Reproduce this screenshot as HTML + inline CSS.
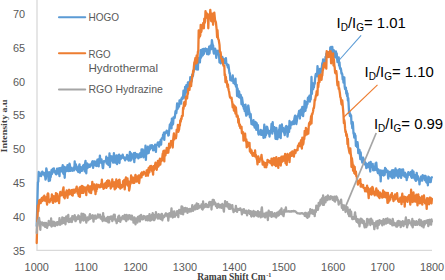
<!DOCTYPE html>
<html><head><meta charset="utf-8"><style>
html,body{margin:0;padding:0;background:#fff;}
body{width:445px;height:280px;overflow:hidden;position:relative;}
svg{position:absolute;left:0;top:0;}
text{font-family:"Liberation Sans",sans-serif;}
</style></head><body>
<svg width="445" height="280" viewBox="0 0 445 280">
<rect width="445" height="280" fill="#fff"/>
<g fill="#595959" font-size="10.9"><text x="25.2" y="17.9" text-anchor="end">70</text><text x="25.2" y="51.7" text-anchor="end">65</text><text x="25.2" y="85.6" text-anchor="end">60</text><text x="25.2" y="119.4" text-anchor="end">55</text><text x="25.2" y="153.3" text-anchor="end">50</text><text x="25.2" y="187.1" text-anchor="end">45</text><text x="25.2" y="220.9" text-anchor="end">40</text><text x="25.2" y="254.8" text-anchor="end">35</text><text x="36.7" y="270.6" text-anchor="middle">1000</text><text x="86.1" y="270.6" text-anchor="middle">1100</text><text x="135.5" y="270.6" text-anchor="middle">1200</text><text x="184.9" y="270.6" text-anchor="middle">1300</text><text x="234.4" y="270.6" text-anchor="middle">1400</text><text x="283.8" y="270.6" text-anchor="middle">1500</text><text x="333.2" y="270.6" text-anchor="middle">1600</text><text x="382.6" y="270.6" text-anchor="middle">1700</text><text x="432.0" y="270.6" text-anchor="middle">1800</text></g>
<line x1="37" y1="0" x2="37" y2="250.3" stroke="#d9d9d9" stroke-width="1.3"/>
<line x1="36.4" y1="250.3" x2="432" y2="250.3" stroke="#d9d9d9" stroke-width="1.3"/>
<g fill="none" stroke-width="2.3" stroke-linejoin="round" stroke-linecap="round">
<polyline stroke="#5B9BD5" points="36.7,226.0 37.1,212.3 37.5,197.2 37.9,182.3 38.3,181.7 38.7,172.0 39.1,173.2 39.5,175.9 39.9,175.6 40.3,175.5 40.7,174.9 41.1,176.1 41.5,172.3 41.9,173.0 42.3,171.6 42.7,174.4 43.1,173.5 43.5,173.4 43.9,172.8 44.3,174.8 44.7,176.0 45.1,175.6 45.5,179.6 45.9,178.4 46.3,168.3 46.7,170.1 47.1,174.6 47.5,174.2 47.9,176.3 48.3,176.4 48.7,181.0 49.1,172.1 49.5,174.0 49.9,180.5 50.3,177.0 50.7,177.0 51.1,173.7 51.5,170.1 51.9,174.0 52.3,173.1 52.7,169.0 53.1,169.8 53.5,170.9 53.9,168.4 54.3,170.9 54.7,172.2 55.1,172.7 55.5,171.4 55.9,174.0 56.3,174.3 56.7,172.2 57.1,168.7 57.5,172.6 57.9,169.6 58.3,173.5 58.7,168.3 59.1,173.2 59.5,176.2 59.9,168.1 60.3,170.6 60.7,171.2 61.1,171.3 61.5,167.7 61.9,167.6 62.3,171.6 62.7,165.2 63.1,172.8 63.5,173.7 63.9,166.6 64.3,170.9 64.7,177.8 65.1,169.1 65.5,167.4 65.9,170.9 66.3,169.3 66.7,171.1 67.1,168.0 67.5,165.1 67.9,168.9 68.3,168.2 68.7,171.1 69.1,168.9 69.5,163.7 69.9,165.0 70.3,170.9 70.7,170.9 71.1,167.7 71.5,169.2 71.9,170.0 72.3,169.8 72.7,170.7 73.1,168.9 73.5,167.7 73.9,167.1 74.3,170.3 74.7,161.5 75.1,167.1 75.5,167.8 75.9,164.3 76.3,169.0 76.7,166.4 77.1,170.3 77.5,168.0 77.9,170.4 78.3,172.0 78.7,169.8 79.1,166.3 79.5,164.3 79.9,172.6 80.3,168.0 80.7,167.1 81.1,169.7 81.5,168.7 81.9,170.9 82.3,168.2 82.7,167.6 83.1,165.5 83.5,168.6 83.9,164.8 84.3,169.3 84.7,171.4 85.1,163.4 85.5,160.9 85.9,168.6 86.3,173.3 86.7,164.0 87.1,163.4 87.5,168.2 87.9,164.2 88.3,164.6 88.7,164.6 89.1,166.8 89.5,164.7 89.9,166.8 90.3,165.9 90.7,164.3 91.1,165.5 91.5,163.4 91.9,165.0 92.3,161.5 92.7,161.3 93.1,167.9 93.5,164.1 93.9,164.4 94.3,161.3 94.7,163.4 95.1,163.8 95.5,165.5 95.9,165.3 96.3,161.4 96.7,166.0 97.1,161.6 97.5,159.6 97.9,159.5 98.3,160.9 98.7,166.4 99.1,159.1 99.5,162.1 99.9,155.6 100.3,160.5 100.7,162.6 101.1,160.0 101.5,159.5 101.9,162.2 102.3,164.0 102.7,167.7 103.1,168.2 103.5,163.6 103.9,161.2 104.3,161.8 104.7,161.2 105.1,161.2 105.5,160.6 105.9,161.2 106.3,156.7 106.7,163.5 107.1,159.9 107.5,158.1 107.9,162.7 108.3,164.9 108.7,163.2 109.1,162.1 109.5,153.5 109.9,167.0 110.3,161.2 110.7,156.2 111.1,157.9 111.5,160.7 111.9,156.3 112.3,160.2 112.7,158.2 113.1,162.6 113.5,162.3 113.9,153.2 114.3,160.8 114.7,156.4 115.1,162.7 115.5,159.1 115.9,159.5 116.3,155.5 116.7,163.5 117.1,164.0 117.5,155.6 117.9,158.9 118.3,155.8 118.7,157.6 119.1,154.7 119.5,163.0 119.9,155.6 120.3,157.2 120.7,159.1 121.1,156.0 121.5,157.2 121.9,156.5 122.3,157.5 122.7,154.7 123.1,156.9 123.5,158.1 123.9,157.9 124.3,158.6 124.7,157.5 125.1,160.4 125.5,158.0 125.9,158.8 126.3,157.4 126.7,157.2 127.1,154.8 127.5,159.3 127.9,155.6 128.3,157.4 128.7,160.7 129.1,160.3 129.5,157.1 129.9,151.8 130.3,157.6 130.7,160.5 131.1,153.5 131.5,159.6 131.9,155.9 132.3,154.6 132.7,157.4 133.1,156.6 133.5,157.8 133.9,153.2 134.3,162.1 134.7,155.6 135.1,152.9 135.5,157.9 135.9,154.7 136.3,155.9 136.7,154.1 137.1,155.3 137.5,156.7 137.9,154.5 138.3,158.3 138.7,155.4 139.1,154.6 139.5,157.4 139.9,153.5 140.3,156.6 140.7,154.3 141.1,157.0 141.5,149.5 141.9,150.4 142.3,152.9 142.7,149.4 143.1,153.3 143.5,157.3 143.9,155.3 144.3,150.4 144.7,150.9 145.1,153.1 145.5,145.6 145.9,159.9 146.3,150.1 146.7,149.8 147.1,153.6 147.5,151.1 147.9,146.7 148.3,152.9 148.7,153.1 149.1,148.9 149.5,148.4 149.9,149.6 150.3,145.3 150.7,148.4 151.1,147.9 151.5,146.4 151.9,145.1 152.3,148.0 152.7,145.8 153.1,150.3 153.5,148.2 153.9,150.1 154.3,148.1 154.7,147.8 155.1,144.6 155.5,148.5 155.9,151.8 156.3,146.3 156.7,144.8 157.1,145.0 157.5,143.5 157.9,142.5 158.3,144.3 158.7,142.7 159.1,146.6 159.5,142.2 159.9,142.1 160.3,143.1 160.7,139.8 161.1,144.6 161.5,139.2 161.9,138.2 162.3,138.4 162.7,138.3 163.1,134.6 163.5,137.6 163.9,132.6 164.3,139.9 164.7,132.3 165.1,133.8 165.5,132.4 165.9,132.8 166.3,132.6 166.7,130.6 167.1,131.3 167.5,133.3 167.9,132.1 168.3,135.5 168.7,135.3 169.1,131.3 169.5,128.0 169.9,124.3 170.3,127.7 170.7,124.6 171.1,122.5 171.5,128.4 171.9,118.6 172.3,125.2 172.7,120.9 173.1,124.0 173.5,117.4 173.9,117.8 174.3,118.1 174.7,117.8 175.1,114.9 175.5,111.3 175.9,110.7 176.3,113.1 176.7,109.3 177.1,103.5 177.5,109.0 177.9,107.2 178.3,107.7 178.7,103.9 179.1,106.3 179.5,100.5 179.9,103.9 180.3,100.5 180.7,103.2 181.1,103.6 181.5,98.3 181.9,98.6 182.3,97.2 182.7,98.9 183.1,96.7 183.5,90.7 183.9,94.2 184.3,94.3 184.7,97.5 185.1,86.8 185.5,88.6 185.9,92.6 186.3,85.2 186.7,85.2 187.1,88.7 187.5,88.5 187.9,82.3 188.3,84.2 188.7,82.6 189.1,86.1 189.5,81.6 189.9,83.2 190.3,77.2 190.7,78.6 191.1,78.6 191.5,81.6 191.9,79.2 192.3,74.3 192.7,76.5 193.1,75.0 193.5,71.1 193.9,69.6 194.3,69.1 194.7,64.3 195.1,68.7 195.5,68.3 195.9,65.2 196.3,69.4 196.7,62.9 197.1,64.4 197.5,63.8 197.9,69.6 198.3,57.9 198.7,62.4 199.1,62.3 199.5,60.2 199.9,62.4 200.3,55.4 200.7,50.2 201.1,57.7 201.5,50.8 201.9,52.7 202.3,49.4 202.7,55.5 203.1,54.3 203.5,49.0 203.9,53.8 204.3,51.4 204.7,50.1 205.1,49.9 205.5,48.5 205.9,51.0 206.3,50.6 206.7,49.1 207.1,54.1 207.5,49.3 207.9,52.2 208.3,52.1 208.7,54.3 209.1,46.7 209.5,53.3 209.9,48.1 210.3,47.0 210.7,45.5 211.1,49.2 211.5,46.8 211.9,40.2 212.3,42.8 212.7,45.1 213.1,45.3 213.5,51.6 213.9,53.6 214.3,49.3 214.7,51.4 215.1,48.6 215.5,50.0 215.9,53.1 216.3,57.9 216.7,54.7 217.1,51.0 217.5,52.0 217.9,50.9 218.3,50.6 218.7,53.3 219.1,55.9 219.5,62.4 219.9,58.1 220.3,62.2 220.7,63.3 221.1,58.2 221.5,62.3 221.9,59.8 222.3,56.9 222.7,59.2 223.1,58.8 223.5,58.7 223.9,59.7 224.3,61.6 224.7,63.1 225.1,60.0 225.5,62.5 225.9,58.2 226.3,63.1 226.7,64.6 227.1,64.3 227.5,65.7 227.9,67.4 228.3,64.8 228.7,66.8 229.1,70.3 229.5,73.3 229.9,73.2 230.3,80.2 230.7,79.8 231.1,78.6 231.5,80.5 231.9,77.5 232.3,79.6 232.7,75.3 233.1,79.6 233.5,83.2 233.9,81.9 234.3,82.1 234.7,81.1 235.1,84.4 235.5,78.6 235.9,86.2 236.3,87.0 236.7,84.9 237.1,96.0 237.5,88.5 237.9,90.8 238.3,91.2 238.7,97.0 239.1,91.3 239.5,95.9 239.9,97.2 240.3,97.9 240.7,94.9 241.1,97.5 241.5,104.3 241.9,97.3 242.3,99.6 242.7,102.5 243.1,106.4 243.5,106.3 243.9,108.8 244.3,105.1 244.7,111.2 245.1,110.4 245.5,104.6 245.9,113.2 246.3,115.7 246.7,107.9 247.1,110.5 247.5,114.4 247.9,106.6 248.3,105.5 248.7,108.2 249.1,111.2 249.5,112.3 249.9,117.1 250.3,117.6 250.7,114.2 251.1,119.8 251.5,124.1 251.9,123.0 252.3,123.3 252.7,121.3 253.1,124.9 253.5,120.1 253.9,125.7 254.3,123.7 254.7,127.7 255.1,126.1 255.5,121.9 255.9,126.1 256.3,129.8 256.7,123.1 257.1,125.6 257.5,126.2 257.9,125.1 258.3,133.4 258.7,134.6 259.1,133.1 259.5,131.8 259.9,131.4 260.3,132.7 260.7,129.8 261.1,134.9 261.5,134.9 261.9,134.5 262.3,130.6 262.7,133.4 263.1,132.3 263.5,137.9 263.9,131.8 264.3,124.7 264.7,132.3 265.1,137.3 265.5,133.7 265.9,135.3 266.3,133.4 266.7,126.7 267.1,126.9 267.5,128.2 267.9,131.2 268.3,132.1 268.7,133.6 269.1,131.0 269.5,136.5 269.9,132.9 270.3,131.9 270.7,131.7 271.1,130.8 271.5,124.0 271.9,129.7 272.3,133.7 272.7,122.2 273.1,131.3 273.5,131.1 273.9,127.1 274.3,127.2 274.7,131.7 275.1,132.4 275.5,138.8 275.9,135.1 276.3,127.8 276.7,130.2 277.1,139.1 277.5,138.9 277.9,133.2 278.3,132.4 278.7,136.9 279.1,129.8 279.5,128.6 279.9,125.4 280.3,129.0 280.7,138.1 281.1,125.9 281.5,130.0 281.9,124.5 282.3,128.5 282.7,130.8 283.1,127.8 283.5,132.0 283.9,132.8 284.3,132.0 284.7,135.1 285.1,131.3 285.5,127.5 285.9,126.3 286.3,126.0 286.7,130.3 287.1,127.8 287.5,136.7 287.9,133.5 288.3,126.9 288.7,126.2 289.1,131.9 289.5,121.0 289.9,124.8 290.3,128.3 290.7,122.4 291.1,123.3 291.5,123.0 291.9,124.7 292.3,122.0 292.7,122.1 293.1,122.3 293.5,120.8 293.9,124.1 294.3,119.2 294.7,117.0 295.1,115.6 295.5,115.8 295.9,119.1 296.3,124.0 296.7,121.8 297.1,119.1 297.5,116.4 297.9,116.1 298.3,114.8 298.7,113.4 299.1,110.8 299.5,113.8 299.9,118.5 300.3,110.4 300.7,115.3 301.1,109.4 301.5,114.3 301.9,111.0 302.3,106.9 302.7,112.2 303.1,116.1 303.5,110.5 303.9,111.8 304.3,107.1 304.7,100.9 305.1,107.9 305.5,110.8 305.9,102.5 306.3,107.8 306.7,105.5 307.1,101.9 307.5,103.9 307.9,98.0 308.3,101.2 308.7,96.8 309.1,100.4 309.5,95.6 309.9,101.7 310.3,97.6 310.7,99.5 311.1,92.2 311.5,77.0 311.9,93.9 312.3,82.8 312.7,85.3 313.1,89.2 313.5,86.7 313.9,87.3 314.3,83.1 314.7,84.0 315.1,78.9 315.5,75.6 315.9,73.8 316.3,76.3 316.7,75.7 317.1,74.5 317.5,66.1 317.9,70.1 318.3,74.7 318.7,77.6 319.1,75.3 319.5,73.6 319.9,68.8 320.3,78.9 320.7,69.1 321.1,68.6 321.5,71.7 321.9,66.6 322.3,63.1 322.7,63.9 323.1,59.5 323.5,62.0 323.9,60.7 324.3,61.8 324.7,62.6 325.1,63.8 325.5,57.0 325.9,59.5 326.3,53.8 326.7,53.0 327.1,53.3 327.5,52.1 327.9,56.7 328.3,55.7 328.7,55.7 329.1,52.0 329.5,52.9 329.9,55.0 330.3,47.3 330.7,53.5 331.1,47.0 331.5,48.4 331.9,52.6 332.3,46.9 332.7,51.5 333.1,50.9 333.5,51.5 333.9,50.3 334.3,56.1 334.7,55.5 335.1,57.3 335.5,54.7 335.9,51.4 336.3,54.4 336.7,53.3 337.1,58.7 337.5,62.0 337.9,61.3 338.3,60.7 338.7,57.3 339.1,65.6 339.5,62.3 339.9,67.6 340.3,68.9 340.7,68.2 341.1,70.1 341.5,73.7 341.9,73.1 342.3,74.5 342.7,79.3 343.1,78.1 343.5,82.7 343.9,77.4 344.3,77.3 344.7,86.6 345.1,89.2 345.5,87.3 345.9,87.8 346.3,93.6 346.7,90.8 347.1,96.2 347.5,93.4 347.9,100.7 348.3,98.2 348.7,105.7 349.1,113.2 349.5,111.3 349.9,116.0 350.3,114.1 350.7,115.2 351.1,115.5 351.5,123.9 351.9,122.6 352.3,128.2 352.7,122.2 353.1,126.2 353.5,133.3 353.9,134.2 354.3,137.6 354.7,133.7 355.1,134.9 355.5,135.8 355.9,145.9 356.3,144.0 356.7,144.1 357.1,147.2 357.5,142.2 357.9,145.5 358.3,153.1 358.7,152.3 359.1,152.3 359.5,150.0 359.9,154.9 360.3,159.1 360.7,152.5 361.1,157.1 361.5,157.3 361.9,160.3 362.3,162.5 362.7,159.2 363.1,157.7 363.5,160.5 363.9,159.3 364.3,160.7 364.7,161.5 365.1,164.5 365.5,162.6 365.9,164.3 366.3,168.1 366.7,164.3 367.1,164.0 367.5,167.3 367.9,166.4 368.3,166.4 368.7,166.8 369.1,162.7 369.5,166.6 369.9,168.7 370.3,171.5 370.7,161.8 371.1,166.8 371.5,163.9 371.9,166.0 372.3,167.2 372.7,163.9 373.1,170.3 373.5,166.5 373.9,168.5 374.3,168.0 374.7,170.1 375.1,170.0 375.5,163.5 375.9,167.9 376.3,162.7 376.7,167.3 377.1,170.4 377.5,171.4 377.9,173.1 378.3,169.3 378.7,171.3 379.1,170.6 379.5,173.8 379.9,175.1 380.3,170.5 380.7,181.4 381.1,171.5 381.5,170.8 381.9,174.0 382.3,174.9 382.7,174.3 383.1,170.6 383.5,175.5 383.9,171.4 384.3,175.2 384.7,174.8 385.1,167.9 385.5,168.8 385.9,168.8 386.3,172.0 386.7,171.5 387.1,172.4 387.5,170.6 387.9,175.1 388.3,178.5 388.7,171.7 389.1,174.4 389.5,174.8 389.9,173.0 390.3,172.0 390.7,176.7 391.1,175.4 391.5,174.4 391.9,170.4 392.3,178.2 392.7,173.0 393.1,170.2 393.5,170.7 393.9,170.5 394.3,177.7 394.7,173.4 395.1,173.8 395.5,168.4 395.9,175.7 396.3,170.8 396.7,170.4 397.1,175.0 397.5,171.7 397.9,176.7 398.3,177.7 398.7,169.6 399.1,173.2 399.5,169.1 399.9,173.2 400.3,175.9 400.7,169.9 401.1,177.9 401.5,172.2 401.9,169.7 402.3,175.4 402.7,174.9 403.1,169.5 403.5,173.1 403.9,174.8 404.3,176.2 404.7,173.7 405.1,172.7 405.5,177.1 405.9,176.9 406.3,174.3 406.7,180.1 407.1,174.4 407.5,177.7 407.9,174.5 408.3,172.2 408.7,173.6 409.1,174.8 409.5,174.0 409.9,173.4 410.3,173.8 410.7,172.0 411.1,176.4 411.5,177.3 411.9,177.9 412.3,170.5 412.7,176.9 413.1,174.9 413.5,171.7 413.9,176.1 414.3,178.4 414.7,175.0 415.1,179.0 415.5,180.3 415.9,180.8 416.3,178.4 416.7,172.8 417.1,175.8 417.5,178.4 417.9,176.2 418.3,179.6 418.7,180.5 419.1,179.3 419.5,184.3 419.9,180.2 420.3,181.1 420.7,177.2 421.1,176.5 421.5,180.3 421.9,177.0 422.3,180.6 422.7,175.2 423.1,178.4 423.5,176.4 423.9,178.3 424.3,178.1 424.7,176.0 425.1,180.4 425.5,175.8 425.9,177.0 426.3,182.2 426.7,182.5 427.1,181.4 427.5,180.2 427.9,185.3 428.3,176.7 428.7,178.2 429.1,177.4 429.5,181.9 429.9,180.0 430.3,182.2 430.7,182.2 431.1,179.3 431.5,177.6 431.9,177.2"/>
<polyline stroke="#ED7D31" points="36.7,243.0 37.1,227.9 37.5,218.1 37.9,205.3 38.3,211.3 38.7,206.6 39.1,200.5 39.5,202.7 39.9,201.9 40.3,199.7 40.7,203.2 41.1,199.3 41.5,199.1 41.9,197.9 42.3,201.0 42.7,199.1 43.1,200.1 43.5,196.6 43.9,198.3 44.3,195.7 44.7,200.6 45.1,199.5 45.5,200.5 45.9,200.9 46.3,197.2 46.7,201.7 47.1,204.7 47.5,194.4 47.9,193.4 48.3,194.0 48.7,200.9 49.1,199.6 49.5,202.3 49.9,201.4 50.3,200.3 50.7,200.3 51.1,198.4 51.5,200.1 51.9,194.4 52.3,196.2 52.7,202.2 53.1,202.9 53.5,196.7 53.9,196.1 54.3,197.4 54.7,201.2 55.1,197.9 55.5,201.7 55.9,193.2 56.3,200.9 56.7,200.5 57.1,193.9 57.5,197.7 57.9,200.5 58.3,197.8 58.7,200.2 59.1,203.1 59.5,196.5 59.9,193.9 60.3,191.9 60.7,195.6 61.1,193.7 61.5,193.7 61.9,193.5 62.3,195.2 62.7,190.6 63.1,189.5 63.5,187.3 63.9,197.1 64.3,194.5 64.7,198.4 65.1,194.4 65.5,192.3 65.9,195.3 66.3,193.7 66.7,190.5 67.1,191.3 67.5,197.8 67.9,193.3 68.3,192.8 68.7,190.6 69.1,189.8 69.5,194.4 69.9,192.3 70.3,190.9 70.7,192.6 71.1,190.5 71.5,193.0 71.9,195.1 72.3,189.9 72.7,195.7 73.1,190.2 73.5,192.1 73.9,189.6 74.3,191.7 74.7,192.7 75.1,191.3 75.5,189.8 75.9,189.0 76.3,188.2 76.7,186.6 77.1,190.6 77.5,192.7 77.9,193.7 78.3,192.3 78.7,196.2 79.1,190.0 79.5,187.6 79.9,196.9 80.3,186.8 80.7,192.9 81.1,188.6 81.5,192.1 81.9,185.8 82.3,192.9 82.7,189.6 83.1,186.7 83.5,192.9 83.9,190.5 84.3,189.1 84.7,187.4 85.1,189.3 85.5,188.8 85.9,190.9 86.3,195.1 86.7,187.2 87.1,187.5 87.5,187.4 87.9,185.4 88.3,187.8 88.7,189.3 89.1,191.3 89.5,192.5 89.9,186.5 90.3,189.5 90.7,186.5 91.1,193.1 91.5,188.0 91.9,189.9 92.3,181.9 92.7,186.2 93.1,188.5 93.5,186.8 93.9,188.9 94.3,184.3 94.7,190.7 95.1,187.2 95.5,194.1 95.9,188.5 96.3,191.4 96.7,184.5 97.1,189.0 97.5,185.3 97.9,185.9 98.3,186.5 98.7,184.9 99.1,186.0 99.5,187.2 99.9,187.3 100.3,185.8 100.7,187.0 101.1,184.0 101.5,185.2 101.9,179.7 102.3,186.8 102.7,184.3 103.1,185.0 103.5,188.8 103.9,188.4 104.3,187.3 104.7,183.7 105.1,186.6 105.5,186.1 105.9,182.6 106.3,187.9 106.7,187.2 107.1,180.8 107.5,185.3 107.9,180.5 108.3,186.0 108.7,185.3 109.1,180.7 109.5,181.5 109.9,184.1 110.3,183.4 110.7,188.5 111.1,187.0 111.5,184.6 111.9,186.6 112.3,179.3 112.7,184.9 113.1,186.1 113.5,183.5 113.9,182.5 114.3,185.8 114.7,189.3 115.1,184.8 115.5,181.6 115.9,188.3 116.3,179.4 116.7,185.0 117.1,181.9 117.5,185.8 117.9,181.2 118.3,187.0 118.7,184.8 119.1,179.9 119.5,179.6 119.9,184.1 120.3,188.6 120.7,186.0 121.1,186.1 121.5,185.2 121.9,187.5 122.3,186.2 122.7,185.2 123.1,181.1 123.5,186.2 123.9,186.5 124.3,179.9 124.7,189.4 125.1,185.1 125.5,181.5 125.9,177.5 126.3,184.2 126.7,184.3 127.1,181.4 127.5,178.3 127.9,185.7 128.3,181.2 128.7,181.7 129.1,190.5 129.5,188.7 129.9,185.5 130.3,181.4 130.7,183.6 131.1,175.3 131.5,181.1 131.9,179.0 132.3,177.9 132.7,177.4 133.1,183.0 133.5,181.8 133.9,181.7 134.3,182.8 134.7,177.9 135.1,176.5 135.5,174.9 135.9,178.6 136.3,181.6 136.7,179.4 137.1,181.4 137.5,176.3 137.9,177.9 138.3,177.0 138.7,175.5 139.1,183.0 139.5,179.8 139.9,175.4 140.3,175.5 140.7,177.3 141.1,173.3 141.5,177.4 141.9,172.4 142.3,174.9 142.7,173.4 143.1,174.7 143.5,172.4 143.9,171.8 144.3,173.2 144.7,173.4 145.1,173.3 145.5,173.0 145.9,175.9 146.3,173.4 146.7,170.3 147.1,173.0 147.5,169.8 147.9,175.7 148.3,173.3 148.7,167.8 149.1,172.5 149.5,172.0 149.9,166.3 150.3,168.3 150.7,169.5 151.1,166.0 151.5,168.2 151.9,168.3 152.3,171.6 152.7,170.0 153.1,174.7 153.5,166.1 153.9,170.1 154.3,167.8 154.7,168.6 155.1,164.9 155.5,162.7 155.9,165.1 156.3,168.4 156.7,169.8 157.1,166.4 157.5,165.2 157.9,160.9 158.3,166.5 158.7,165.7 159.1,160.6 159.5,161.6 159.9,158.6 160.3,164.5 160.7,161.3 161.1,159.8 161.5,160.9 161.9,160.5 162.3,157.3 162.7,153.9 163.1,152.6 163.5,150.9 163.9,156.8 164.3,161.4 164.7,150.7 165.1,154.9 165.5,155.2 165.9,151.0 166.3,153.0 166.7,148.0 167.1,152.8 167.5,148.1 167.9,150.7 168.3,152.6 168.7,148.9 169.1,143.7 169.5,148.2 169.9,147.6 170.3,144.7 170.7,144.9 171.1,140.8 171.5,143.6 171.9,145.0 172.3,143.2 172.7,147.5 173.1,140.6 173.5,136.6 173.9,133.4 174.3,139.3 174.7,135.6 175.1,138.2 175.5,136.2 175.9,138.2 176.3,135.7 176.7,129.7 177.1,129.9 177.5,131.1 177.9,124.8 178.3,131.8 178.7,130.7 179.1,129.4 179.5,125.3 179.9,125.4 180.3,120.3 180.7,121.8 181.1,118.7 181.5,119.1 181.9,116.0 182.3,116.0 182.7,116.0 183.1,107.7 183.5,109.0 183.9,103.8 184.3,102.1 184.7,106.1 185.1,105.0 185.5,104.4 185.9,96.8 186.3,98.7 186.7,97.1 187.1,98.4 187.5,93.6 187.9,94.0 188.3,88.7 188.7,89.7 189.1,88.2 189.5,89.9 189.9,83.7 190.3,82.2 190.7,84.2 191.1,86.1 191.5,81.2 191.9,79.3 192.3,75.1 192.7,75.6 193.1,71.0 193.5,71.9 193.9,66.9 194.3,62.5 194.7,62.2 195.1,59.8 195.5,57.8 195.9,63.5 196.3,61.5 196.7,55.4 197.1,62.7 197.5,57.1 197.9,51.7 198.3,50.8 198.7,30.5 199.1,37.9 199.5,32.7 199.9,36.3 200.3,35.2 200.7,24.9 201.1,32.1 201.5,30.9 201.9,26.8 202.3,27.9 202.7,25.8 203.1,23.1 203.5,23.7 203.9,28.3 204.3,18.6 204.7,22.9 205.1,21.2 205.5,11.2 205.9,16.3 206.3,12.6 206.7,14.0 207.1,16.8 207.5,18.3 207.9,14.5 208.3,28.3 208.7,16.0 209.1,18.8 209.5,17.7 209.9,16.4 210.3,9.8 210.7,14.3 211.1,21.0 211.5,21.2 211.9,14.0 212.3,20.6 212.7,13.7 213.1,24.8 213.5,14.6 213.9,14.1 214.3,12.6 214.7,16.5 215.1,20.5 215.5,21.1 215.9,22.4 216.3,26.2 216.7,29.9 217.1,37.3 217.5,30.2 217.9,37.0 218.3,39.2 218.7,39.8 219.1,42.2 219.5,44.9 219.9,51.9 220.3,51.6 220.7,52.8 221.1,57.9 221.5,58.8 221.9,59.0 222.3,61.8 222.7,59.3 223.1,64.3 223.5,65.7 223.9,65.6 224.3,65.7 224.7,75.4 225.1,74.4 225.5,82.1 225.9,77.0 226.3,82.7 226.7,80.9 227.1,84.1 227.5,87.1 227.9,84.5 228.3,88.0 228.7,90.3 229.1,91.7 229.5,94.3 229.9,96.7 230.3,97.7 230.7,98.0 231.1,98.2 231.5,97.7 231.9,100.5 232.3,102.8 232.7,107.4 233.1,105.9 233.5,104.7 233.9,110.6 234.3,107.8 234.7,106.2 235.1,111.0 235.5,113.7 235.9,107.3 236.3,112.0 236.7,116.7 237.1,116.3 237.5,115.6 237.9,116.9 238.3,122.6 238.7,119.0 239.1,123.9 239.5,126.1 239.9,124.7 240.3,128.2 240.7,126.6 241.1,126.9 241.5,126.6 241.9,133.3 242.3,131.5 242.7,132.4 243.1,132.1 243.5,140.6 243.9,138.5 244.3,136.6 244.7,135.4 245.1,133.7 245.5,139.6 245.9,141.6 246.3,139.3 246.7,147.4 247.1,146.8 247.5,142.0 247.9,142.7 248.3,143.4 248.7,145.9 249.1,146.0 249.5,142.9 249.9,151.5 250.3,149.0 250.7,152.1 251.1,153.0 251.5,150.3 251.9,152.8 252.3,154.9 252.7,155.8 253.1,154.1 253.5,153.3 253.9,155.2 254.3,156.0 254.7,154.0 255.1,150.5 255.5,156.7 255.9,154.9 256.3,157.0 256.7,158.8 257.1,160.0 257.5,164.3 257.9,160.2 258.3,156.3 258.7,160.4 259.1,158.8 259.5,161.8 259.9,159.2 260.3,158.6 260.7,158.3 261.1,157.6 261.5,154.8 261.9,158.5 262.3,160.8 262.7,164.7 263.1,161.6 263.5,161.8 263.9,164.3 264.3,164.2 264.7,167.1 265.1,164.7 265.5,163.0 265.9,166.4 266.3,167.3 266.7,162.8 267.1,164.9 267.5,159.8 267.9,162.4 268.3,160.3 268.7,161.8 269.1,160.9 269.5,161.4 269.9,161.3 270.3,163.0 270.7,162.8 271.1,163.3 271.5,158.6 271.9,164.8 272.3,165.4 272.7,161.0 273.1,163.9 273.5,158.4 273.9,158.0 274.3,160.9 274.7,164.9 275.1,158.4 275.5,159.4 275.9,166.2 276.3,157.2 276.7,163.7 277.1,163.1 277.5,161.0 277.9,161.8 278.3,167.9 278.7,158.2 279.1,160.4 279.5,160.7 279.9,159.5 280.3,157.8 280.7,165.5 281.1,162.0 281.5,156.6 281.9,158.9 282.3,161.5 282.7,161.2 283.1,156.3 283.5,159.9 283.9,160.7 284.3,160.6 284.7,160.1 285.1,154.0 285.5,163.3 285.9,158.8 286.3,162.6 286.7,164.9 287.1,156.8 287.5,154.0 287.9,159.6 288.3,157.1 288.7,156.4 289.1,155.0 289.5,162.2 289.9,156.4 290.3,153.0 290.7,154.7 291.1,152.5 291.5,155.9 291.9,153.9 292.3,151.4 292.7,155.2 293.1,151.9 293.5,155.6 293.9,156.6 294.3,151.6 294.7,150.0 295.1,151.6 295.5,153.1 295.9,150.6 296.3,150.6 296.7,149.6 297.1,149.9 297.5,150.3 297.9,146.1 298.3,145.4 298.7,145.7 299.1,143.4 299.5,145.4 299.9,146.2 300.3,144.1 300.7,141.7 301.1,140.3 301.5,146.1 301.9,148.5 302.3,137.7 302.7,138.0 303.1,144.6 303.5,142.7 303.9,137.7 304.3,138.9 304.7,130.8 305.1,134.0 305.5,135.3 305.9,127.9 306.3,130.0 306.7,133.6 307.1,134.2 307.5,129.4 307.9,131.2 308.3,133.6 308.7,127.1 309.1,123.1 309.5,124.8 309.9,122.0 310.3,124.4 310.7,119.8 311.1,116.2 311.5,123.4 311.9,114.1 312.3,114.5 312.7,112.8 313.1,111.2 313.5,108.2 313.9,108.2 314.3,105.1 314.7,99.7 315.1,100.4 315.5,97.7 315.9,95.4 316.3,94.6 316.7,91.2 317.1,95.4 317.5,94.8 317.9,82.8 318.3,87.1 318.7,83.0 319.1,75.6 319.5,82.2 319.9,77.2 320.3,79.3 320.7,74.6 321.1,79.6 321.5,79.8 321.9,75.9 322.3,75.5 322.7,70.7 323.1,69.4 323.5,64.8 323.9,66.3 324.3,63.2 324.7,66.3 325.1,67.3 325.5,64.3 325.9,65.3 326.3,68.7 326.7,51.1 327.1,52.5 327.5,56.3 327.9,56.4 328.3,52.7 328.7,57.1 329.1,55.9 329.5,54.7 329.9,51.2 330.3,56.5 330.7,51.4 331.1,63.3 331.5,58.4 331.9,55.5 332.3,59.0 332.7,56.4 333.1,53.4 333.5,65.5 333.9,59.2 334.3,65.1 334.7,67.4 335.1,72.5 335.5,73.4 335.9,71.9 336.3,71.1 336.7,74.5 337.1,81.3 337.5,85.3 337.9,83.3 338.3,81.8 338.7,88.9 339.1,88.0 339.5,90.7 339.9,93.2 340.3,97.1 340.7,97.6 341.1,101.2 341.5,104.1 341.9,104.8 342.3,100.5 342.7,105.4 343.1,109.8 343.5,114.9 343.9,123.2 344.3,120.1 344.7,122.7 345.1,128.7 345.5,132.1 345.9,131.5 346.3,135.9 346.7,134.1 347.1,136.7 347.5,144.1 347.9,138.8 348.3,146.8 348.7,148.4 349.1,150.8 349.5,152.8 349.9,153.4 350.3,148.3 350.7,153.3 351.1,156.1 351.5,166.9 351.9,158.2 352.3,161.3 352.7,164.4 353.1,170.8 353.5,165.4 353.9,167.0 354.3,173.2 354.7,166.9 355.1,174.0 355.5,172.9 355.9,171.5 356.3,176.2 356.7,176.2 357.1,180.4 357.5,181.5 357.9,184.7 358.3,181.1 358.7,181.9 359.1,180.7 359.5,182.7 359.9,182.9 360.3,179.2 360.7,186.7 361.1,183.8 361.5,185.1 361.9,185.3 362.3,186.6 362.7,185.5 363.1,184.9 363.5,187.8 363.9,188.0 364.3,187.9 364.7,189.2 365.1,191.3 365.5,190.1 365.9,190.9 366.3,187.6 366.7,190.6 367.1,185.7 367.5,192.1 367.9,187.7 368.3,193.5 368.7,198.2 369.1,189.8 369.5,194.3 369.9,191.7 370.3,189.1 370.7,188.4 371.1,192.2 371.5,194.5 371.9,191.8 372.3,186.8 372.7,187.5 373.1,189.3 373.5,193.6 373.9,191.5 374.3,192.5 374.7,195.4 375.1,192.0 375.5,192.4 375.9,192.4 376.3,188.4 376.7,194.3 377.1,194.1 377.5,195.7 377.9,190.6 378.3,192.2 378.7,197.0 379.1,195.5 379.5,198.1 379.9,192.3 380.3,195.4 380.7,193.5 381.1,196.3 381.5,194.0 381.9,196.3 382.3,197.6 382.7,196.8 383.1,190.3 383.5,197.2 383.9,195.7 384.3,191.8 384.7,192.4 385.1,195.1 385.5,197.4 385.9,195.4 386.3,192.8 386.7,197.7 387.1,197.2 387.5,202.9 387.9,192.9 388.3,202.5 388.7,200.3 389.1,196.7 389.5,200.6 389.9,196.9 390.3,199.4 390.7,194.8 391.1,196.8 391.5,194.1 391.9,193.1 392.3,196.8 392.7,195.8 393.1,198.9 393.5,201.1 393.9,197.8 394.3,198.8 394.7,199.3 395.1,194.4 395.5,199.3 395.9,198.5 396.3,198.3 396.7,195.6 397.1,193.2 397.5,197.6 397.9,198.8 398.3,201.2 398.7,200.6 399.1,201.9 399.5,199.4 399.9,201.3 400.3,197.7 400.7,199.9 401.1,200.4 401.5,204.1 401.9,197.2 402.3,193.7 402.7,201.6 403.1,196.8 403.5,199.1 403.9,198.5 404.3,196.7 404.7,206.7 405.1,200.3 405.5,197.1 405.9,198.9 406.3,197.8 406.7,200.5 407.1,197.9 407.5,201.8 407.9,196.7 408.3,196.8 408.7,198.4 409.1,195.2 409.5,197.8 409.9,199.7 410.3,204.6 410.7,200.2 411.1,189.7 411.5,196.1 411.9,196.6 412.3,198.6 412.7,202.1 413.1,200.2 413.5,192.5 413.9,199.3 414.3,198.5 414.7,199.0 415.1,201.6 415.5,195.6 415.9,201.6 416.3,194.7 416.7,199.4 417.1,200.6 417.5,205.4 417.9,197.3 418.3,194.3 418.7,200.3 419.1,196.9 419.5,203.3 419.9,198.1 420.3,197.9 420.7,203.2 421.1,199.9 421.5,202.4 421.9,196.5 422.3,204.7 422.7,198.7 423.1,202.0 423.5,196.9 423.9,195.3 424.3,198.5 424.7,199.6 425.1,203.4 425.5,200.7 425.9,202.3 426.3,202.6 426.7,208.9 427.1,198.1 427.5,203.0 427.9,199.3 428.3,200.8 428.7,199.4 429.1,204.3 429.5,197.9 429.9,197.5 430.3,200.3 430.7,197.9 431.1,202.7 431.5,203.3 431.9,199.0"/>
<polyline stroke="#A5A5A5" points="36.7,233.0 37.1,223.0 37.5,225.9 37.9,221.4 38.3,220.1 38.7,220.6 39.1,217.8 39.5,222.1 39.9,221.3 40.3,229.8 40.7,223.7 41.1,222.6 41.5,223.0 41.9,222.7 42.3,222.4 42.7,223.8 43.1,225.2 43.5,223.4 43.9,225.5 44.3,223.0 44.7,223.5 45.1,226.8 45.5,225.0 45.9,222.9 46.3,227.1 46.7,225.0 47.1,227.9 47.5,223.5 47.9,223.4 48.3,225.4 48.7,221.0 49.1,221.9 49.5,224.5 49.9,224.4 50.3,223.9 50.7,225.3 51.1,218.5 51.5,226.5 51.9,222.9 52.3,221.6 52.7,225.3 53.1,225.7 53.5,223.2 53.9,221.8 54.3,224.0 54.7,223.6 55.1,226.0 55.5,224.1 55.9,222.6 56.3,224.7 56.7,222.9 57.1,222.1 57.5,225.1 57.9,224.6 58.3,222.7 58.7,221.6 59.1,223.7 59.5,218.2 59.9,224.8 60.3,224.6 60.7,220.3 61.1,223.5 61.5,220.9 61.9,223.7 62.3,217.4 62.7,219.2 63.1,222.2 63.5,222.9 63.9,217.8 64.3,219.3 64.7,221.4 65.1,220.0 65.5,224.3 65.9,218.0 66.3,216.4 66.7,216.7 67.1,221.2 67.5,218.2 67.9,217.5 68.3,215.0 68.7,222.0 69.1,220.4 69.5,220.8 69.9,221.9 70.3,220.6 70.7,218.7 71.1,218.2 71.5,218.0 71.9,222.0 72.3,216.1 72.7,217.6 73.1,217.9 73.5,218.7 73.9,219.4 74.3,215.9 74.7,215.2 75.1,218.8 75.5,221.2 75.9,220.2 76.3,218.9 76.7,217.3 77.1,218.0 77.5,216.9 77.9,219.0 78.3,215.5 78.7,216.9 79.1,216.2 79.5,217.7 79.9,217.5 80.3,222.5 80.7,220.5 81.1,220.5 81.5,213.6 81.9,217.3 82.3,217.1 82.7,219.5 83.1,213.8 83.5,220.6 83.9,220.0 84.3,214.6 84.7,214.8 85.1,215.4 85.5,217.7 85.9,219.5 86.3,222.6 86.7,217.9 87.1,219.3 87.5,217.4 87.9,220.3 88.3,218.3 88.7,219.6 89.1,218.1 89.5,215.7 89.9,214.2 90.3,218.8 90.7,217.4 91.1,215.7 91.5,215.8 91.9,218.1 92.3,215.9 92.7,215.2 93.1,217.6 93.5,221.6 93.9,216.9 94.3,217.1 94.7,216.1 95.1,215.5 95.5,218.6 95.9,218.7 96.3,216.7 96.7,217.4 97.1,217.3 97.5,217.6 97.9,214.3 98.3,216.2 98.7,217.3 99.1,215.4 99.5,215.7 99.9,214.6 100.3,215.7 100.7,218.7 101.1,216.9 101.5,217.7 101.9,219.6 102.3,219.1 102.7,221.0 103.1,213.2 103.5,219.0 103.9,216.4 104.3,218.1 104.7,219.9 105.1,220.6 105.5,220.6 105.9,218.6 106.3,221.1 106.7,221.2 107.1,217.6 107.5,219.6 107.9,216.9 108.3,222.3 108.7,220.0 109.1,222.3 109.5,217.8 109.9,216.9 110.3,217.7 110.7,218.8 111.1,216.4 111.5,218.6 111.9,218.0 112.3,221.2 112.7,216.4 113.1,219.6 113.5,215.8 113.9,214.8 114.3,215.3 114.7,214.7 115.1,218.0 115.5,220.5 115.9,219.4 116.3,220.9 116.7,223.2 117.1,220.5 117.5,220.2 117.9,219.2 118.3,216.3 118.7,220.8 119.1,215.7 119.5,220.7 119.9,219.5 120.3,221.8 120.7,219.3 121.1,217.6 121.5,219.7 121.9,217.7 122.3,218.3 122.7,216.2 123.1,218.3 123.5,218.6 123.9,217.8 124.3,219.1 124.7,215.0 125.1,218.5 125.5,216.0 125.9,220.5 126.3,221.0 126.7,214.9 127.1,219.3 127.5,218.7 127.9,216.5 128.3,219.4 128.7,217.5 129.1,215.2 129.5,218.2 129.9,218.2 130.3,218.4 130.7,215.7 131.1,219.4 131.5,219.5 131.9,215.7 132.3,217.0 132.7,218.5 133.1,217.8 133.5,222.7 133.9,219.8 134.3,217.4 134.7,217.7 135.1,219.4 135.5,224.4 135.9,219.6 136.3,219.9 136.7,219.9 137.1,218.1 137.5,222.5 137.9,217.0 138.3,219.7 138.7,218.8 139.1,219.8 139.5,216.0 139.9,221.5 140.3,217.1 140.7,217.0 141.1,215.0 141.5,215.7 141.9,218.6 142.3,219.4 142.7,218.7 143.1,219.2 143.5,217.7 143.9,216.0 144.3,217.7 144.7,217.6 145.1,216.6 145.5,218.6 145.9,220.1 146.3,218.0 146.7,216.4 147.1,218.1 147.5,220.3 147.9,216.2 148.3,216.7 148.7,216.9 149.1,220.0 149.5,214.2 149.9,219.0 150.3,220.7 150.7,216.1 151.1,220.0 151.5,217.4 151.9,214.9 152.3,216.4 152.7,213.1 153.1,215.3 153.5,220.2 153.9,214.8 154.3,220.2 154.7,216.4 155.1,218.8 155.5,217.0 155.9,212.1 156.3,215.0 156.7,216.6 157.1,214.6 157.5,214.9 157.9,218.6 158.3,216.5 158.7,214.1 159.1,215.7 159.5,218.4 159.9,215.4 160.3,217.9 160.7,219.0 161.1,216.1 161.5,213.9 161.9,213.9 162.3,220.3 162.7,218.3 163.1,216.9 163.5,217.5 163.9,215.6 164.3,216.9 164.7,215.1 165.1,215.4 165.5,213.7 165.9,213.3 166.3,215.6 166.7,214.2 167.1,214.0 167.5,216.5 167.9,214.5 168.3,220.6 168.7,216.7 169.1,213.3 169.5,215.7 169.9,214.7 170.3,212.9 170.7,216.7 171.1,212.9 171.5,208.3 171.9,216.0 172.3,213.3 172.7,217.5 173.1,213.0 173.5,211.6 173.9,216.8 174.3,211.3 174.7,213.8 175.1,216.5 175.5,214.1 175.9,213.7 176.3,213.8 176.7,214.8 177.1,211.2 177.5,213.8 177.9,213.7 178.3,217.2 178.7,211.6 179.1,209.9 179.5,212.8 179.9,210.5 180.3,212.0 180.7,211.8 181.1,213.8 181.5,206.5 181.9,211.4 182.3,206.6 182.7,209.8 183.1,214.4 183.5,209.7 183.9,209.5 184.3,208.3 184.7,211.7 185.1,210.7 185.5,207.8 185.9,211.3 186.3,210.5 186.7,211.3 187.1,208.3 187.5,212.9 187.9,210.4 188.3,209.7 188.7,209.2 189.1,209.7 189.5,211.6 189.9,208.8 190.3,211.0 190.7,209.8 191.1,211.3 191.5,210.4 191.9,208.8 192.3,205.2 192.7,209.7 193.1,210.8 193.5,209.3 193.9,209.7 194.3,207.2 194.7,206.9 195.1,205.3 195.5,209.4 195.9,206.6 196.3,205.2 196.7,203.4 197.1,205.7 197.5,208.9 197.9,206.7 198.3,204.1 198.7,208.0 199.1,207.7 199.5,206.5 199.9,206.1 200.3,207.1 200.7,206.4 201.1,207.3 201.5,204.4 201.9,208.8 202.3,206.0 202.7,209.5 203.1,201.5 203.5,207.2 203.9,207.7 204.3,204.9 204.7,206.3 205.1,206.8 205.5,206.3 205.9,203.8 206.3,204.2 206.7,206.3 207.1,207.0 207.5,205.1 207.9,205.4 208.3,205.7 208.7,207.0 209.1,202.6 209.5,202.0 209.9,204.8 210.3,202.4 210.7,203.7 211.1,202.0 211.5,209.5 211.9,202.1 212.3,205.4 212.7,199.9 213.1,204.3 213.5,199.8 213.9,200.3 214.3,204.1 214.7,202.4 215.1,202.4 215.5,203.9 215.9,206.1 216.3,205.3 216.7,205.5 217.1,207.8 217.5,204.2 217.9,204.3 218.3,203.8 218.7,206.9 219.1,206.6 219.5,207.4 219.9,204.9 220.3,204.9 220.7,207.4 221.1,205.3 221.5,207.8 221.9,207.2 222.3,203.9 222.7,204.9 223.1,205.1 223.5,209.4 223.9,211.6 224.3,206.2 224.7,206.1 225.1,201.2 225.5,206.0 225.9,205.1 226.3,202.6 226.7,206.4 227.1,202.2 227.5,205.7 227.9,206.9 228.3,204.2 228.7,208.3 229.1,208.8 229.5,204.3 229.9,204.5 230.3,208.9 230.7,207.9 231.1,205.7 231.5,207.4 231.9,207.6 232.3,205.2 232.7,209.7 233.1,209.1 233.5,212.2 233.9,211.5 234.3,209.9 234.7,210.4 235.1,210.7 235.5,209.6 235.9,206.0 236.3,210.4 236.7,208.9 237.1,211.9 237.5,208.9 237.9,210.0 238.3,209.8 238.7,209.8 239.1,209.8 239.5,208.6 239.9,209.6 240.3,208.4 240.7,210.2 241.1,210.4 241.5,211.2 241.9,214.4 242.3,209.6 242.7,210.5 243.1,210.3 243.5,212.5 243.9,209.2 244.3,210.5 244.7,211.8 245.1,212.9 245.5,211.7 245.9,211.0 246.3,210.7 246.7,213.6 247.1,215.3 247.5,212.8 247.9,212.3 248.3,212.9 248.7,210.3 249.1,211.8 249.5,212.3 249.9,213.9 250.3,213.5 250.7,211.2 251.1,215.7 251.5,216.5 251.9,212.2 252.3,213.8 252.7,214.1 253.1,215.5 253.5,210.8 253.9,216.4 254.3,211.7 254.7,214.9 255.1,212.7 255.5,212.0 255.9,212.9 256.3,215.6 256.7,212.7 257.1,214.3 257.5,214.1 257.9,211.2 258.3,216.6 258.7,214.8 259.1,213.6 259.5,213.1 259.9,212.3 260.3,214.0 260.7,217.4 261.1,215.6 261.5,209.2 261.9,207.3 262.3,212.3 262.7,216.7 263.1,213.7 263.5,214.2 263.9,216.1 264.3,213.6 264.7,216.3 265.1,217.5 265.5,216.3 265.9,215.3 266.3,212.6 266.7,214.5 267.1,212.8 267.5,216.8 267.9,220.0 268.3,213.7 268.7,210.6 269.1,213.6 269.5,214.8 269.9,215.7 270.3,215.6 270.7,212.1 271.1,212.4 271.5,216.8 271.9,212.1 272.3,216.3 272.7,213.7 273.1,215.8 273.5,215.8 273.9,216.0 274.3,216.3 274.7,213.2 275.1,216.3 275.5,216.0 275.9,216.4 276.3,217.5 276.7,213.7 277.1,212.6 277.5,212.9 277.9,214.0 278.3,215.7 278.7,211.7 279.1,215.0 279.5,213.2 279.9,212.3 280.3,210.2 280.7,213.3 281.1,213.8 281.5,208.4 281.9,213.8 282.3,214.5 282.7,212.0 283.1,212.3 283.5,216.2 283.9,213.9 284.3,209.9 284.7,211.8 285.1,211.4 285.5,211.5 285.9,207.4 286.3,211.5 286.7,211.3 287.1,211.4 287.5,211.3 287.9,211.5 288.3,211.3 288.7,211.2 289.1,211.4 289.5,211.6 289.9,211.3 290.3,211.6 290.7,211.4 291.1,211.2 291.5,211.5 291.9,211.2 292.3,211.4 292.7,211.1 293.1,211.3 293.5,211.0 293.9,211.0 294.3,211.3 294.7,211.2 295.1,211.3 295.5,211.4 295.9,211.9 296.3,212.4 296.7,212.5 297.1,213.1 297.5,213.2 297.9,213.3 298.3,213.4 298.7,213.4 299.1,213.3 299.5,213.6 299.9,213.5 300.3,213.6 300.7,213.4 301.1,213.3 301.5,213.2 301.9,213.4 302.3,213.2 302.7,213.5 303.1,213.7 303.5,213.9 303.9,213.8 304.3,213.5 304.7,215.8 305.1,212.9 305.5,215.5 305.9,212.8 306.3,213.9 306.7,217.0 307.1,214.1 307.5,217.8 307.9,214.0 308.3,212.8 308.7,215.9 309.1,216.5 309.5,211.8 309.9,212.8 310.3,209.2 310.7,211.1 311.1,213.4 311.5,212.0 311.9,211.6 312.3,209.9 312.7,213.2 313.1,213.8 313.5,213.5 313.9,213.1 314.3,210.3 314.7,216.2 315.1,211.7 315.5,210.7 315.9,211.8 316.3,205.6 316.7,209.3 317.1,208.4 317.5,208.6 317.9,209.9 318.3,207.8 318.7,202.8 319.1,205.3 319.5,205.7 319.9,204.9 320.3,201.2 320.7,199.6 321.1,203.4 321.5,202.5 321.9,201.4 322.3,197.9 322.7,204.8 323.1,195.3 323.5,200.1 323.9,204.9 324.3,200.3 324.7,200.9 325.1,197.6 325.5,202.3 325.9,196.8 326.3,199.5 326.7,199.0 327.1,196.5 327.5,200.2 327.9,195.5 328.3,196.8 328.7,198.1 329.1,197.2 329.5,198.8 329.9,199.4 330.3,196.8 330.7,196.3 331.1,196.7 331.5,197.5 331.9,196.8 332.3,198.7 332.7,199.9 333.1,198.7 333.5,197.1 333.9,200.5 334.3,196.6 334.7,198.6 335.1,201.7 335.5,197.0 335.9,199.3 336.3,196.3 336.7,198.9 337.1,197.4 337.5,200.0 337.9,199.8 338.3,201.3 338.7,204.6 339.1,202.1 339.5,202.9 339.9,201.6 340.3,201.6 340.7,201.0 341.1,199.6 341.5,203.9 341.9,207.8 342.3,206.4 342.7,205.0 343.1,209.8 343.5,206.0 343.9,206.1 344.3,205.4 344.7,206.1 345.1,207.6 345.5,212.0 345.9,207.8 346.3,206.5 346.7,208.0 347.1,209.5 347.5,207.4 347.9,212.0 348.3,213.9 348.7,213.5 349.1,216.1 349.5,210.3 349.9,209.6 350.3,216.0 350.7,216.2 351.1,211.6 351.5,216.1 351.9,217.1 352.3,219.1 352.7,218.7 353.1,217.2 353.5,218.8 353.9,219.0 354.3,218.5 354.7,214.7 355.1,212.3 355.5,217.1 355.9,216.3 356.3,220.8 356.7,221.8 357.1,220.6 357.5,219.2 357.9,220.4 358.3,223.1 358.7,219.6 359.1,223.0 359.5,226.3 359.9,221.3 360.3,223.3 360.7,218.7 361.1,222.2 361.5,218.9 361.9,219.8 362.3,219.7 362.7,223.0 363.1,220.6 363.5,223.0 363.9,221.2 364.3,225.9 364.7,227.4 365.1,224.1 365.5,226.8 365.9,224.4 366.3,227.2 366.7,222.6 367.1,219.0 367.5,225.3 367.9,222.4 368.3,220.8 368.7,221.5 369.1,219.4 369.5,222.2 369.9,220.2 370.3,225.0 370.7,223.2 371.1,218.7 371.5,219.6 371.9,222.4 372.3,220.3 372.7,224.1 373.1,224.1 373.5,222.8 373.9,223.6 374.3,229.2 374.7,226.9 375.1,226.3 375.5,222.8 375.9,224.4 376.3,221.5 376.7,224.0 377.1,221.3 377.5,228.4 377.9,220.8 378.3,221.7 378.7,223.8 379.1,224.7 379.5,220.1 379.9,221.6 380.3,222.9 380.7,223.1 381.1,220.9 381.5,222.7 381.9,222.0 382.3,225.4 382.7,224.1 383.1,220.8 383.5,219.2 383.9,223.2 384.3,224.4 384.7,221.7 385.1,222.8 385.5,220.2 385.9,219.0 386.3,223.5 386.7,222.1 387.1,222.9 387.5,218.4 387.9,221.5 388.3,219.9 388.7,222.7 389.1,219.7 389.5,219.5 389.9,219.6 390.3,223.9 390.7,222.3 391.1,221.4 391.5,221.0 391.9,220.6 392.3,225.4 392.7,218.9 393.1,220.8 393.5,223.7 393.9,225.0 394.3,222.8 394.7,225.0 395.1,225.0 395.5,225.3 395.9,223.3 396.3,226.5 396.7,223.8 397.1,226.6 397.5,221.5 397.9,225.6 398.3,221.3 398.7,220.9 399.1,224.9 399.5,222.1 399.9,224.6 400.3,221.7 400.7,227.2 401.1,224.3 401.5,222.1 401.9,224.3 402.3,225.0 402.7,221.1 403.1,223.3 403.5,226.1 403.9,223.7 404.3,222.1 404.7,221.4 405.1,224.2 405.5,220.3 405.9,217.5 406.3,222.4 406.7,221.6 407.1,227.4 407.5,224.0 407.9,225.0 408.3,220.2 408.7,223.0 409.1,220.2 409.5,221.0 409.9,222.6 410.3,223.3 410.7,223.3 411.1,223.0 411.5,225.1 411.9,225.8 412.3,219.0 412.7,227.4 413.1,222.5 413.5,224.9 413.9,221.2 414.3,223.6 414.7,223.7 415.1,223.5 415.5,224.8 415.9,224.3 416.3,221.2 416.7,223.2 417.1,224.8 417.5,224.5 417.9,222.2 418.3,221.9 418.7,221.8 419.1,219.7 419.5,219.5 419.9,225.2 420.3,221.2 420.7,221.9 421.1,220.3 421.5,224.8 421.9,226.1 422.3,222.3 422.7,223.9 423.1,221.8 423.5,227.4 423.9,225.5 424.3,221.2 424.7,224.6 425.1,222.5 425.5,222.7 425.9,222.7 426.3,220.6 426.7,220.8 427.1,223.0 427.5,221.7 427.9,220.1 428.3,226.1 428.7,221.4 429.1,220.3 429.5,219.8 429.9,223.0 430.3,224.3 430.7,223.4 431.1,224.6 431.5,219.5 431.9,221.4"/>
</g>
<g stroke-width="1.1">
<line x1="339.3" y1="60" x2="361.1" y2="35.3" stroke="#5B9BD5"/>
<line x1="343.9" y1="117" x2="377.5" y2="84.8" stroke="#ED7D31"/>
<line x1="346" y1="205.6" x2="376.2" y2="133" stroke="#A5A5A5" stroke-width="1.7"/>
</g>
<g stroke-width="2.1" stroke-linecap="round">
<line x1="59" y1="17.3" x2="85.2" y2="17.3" stroke="#5B9BD5"/>
<line x1="59" y1="53.3" x2="85.2" y2="53.3" stroke="#ED7D31"/>
<line x1="59" y1="89.5" x2="85.2" y2="89.5" stroke="#A5A5A5"/>
</g>
<g fill="#595959" font-size="11.2">
<text x="88.5" y="21.0" textLength="30.6" lengthAdjust="spacingAndGlyphs">HOGO</text>
<text x="88.5" y="57.8" textLength="22.2" lengthAdjust="spacingAndGlyphs">RGO</text>
<text x="88.5" y="72.3" textLength="69.6" lengthAdjust="spacingAndGlyphs">Hydrothermal</text>
<text x="88.5" y="92.7" textLength="74.4" lengthAdjust="spacingAndGlyphs">RGO Hydrazine</text>
</g>
<g fill="#000" font-size="14.9">
<text x="336.6" y="27.8">I<tspan font-size="10" dy="3">D</tspan><tspan dy="-3">/I</tspan><tspan font-size="10" dy="3">G</tspan><tspan dy="-3">= 1.01</tspan></text>
<text x="364.5" y="77.2">I<tspan font-size="10" dy="3">D</tspan><tspan dy="-3">/I</tspan><tspan font-size="10" dy="3">G</tspan><tspan dy="-3">= 1.10</tspan></text>
<text x="373.9" y="129.4">I<tspan font-size="10" dy="3">D</tspan><tspan dy="-3">/I</tspan><tspan font-size="10" dy="3">G</tspan><tspan dy="-3">= 0.99</tspan></text>
</g>
<text x="197.2" y="279.7" font-weight="bold" font-size="10.3" fill="#404040" textLength="68.5" lengthAdjust="spacingAndGlyphs" style="font-family:'Liberation Serif',serif">Raman Shift Cm</text>
<text x="266.3" y="276.6" font-weight="bold" font-size="6.2" fill="#404040" style="font-family:'Liberation Serif',serif">-1</text>
<text transform="translate(7.0,152.4) rotate(-90)" font-weight="bold" font-size="8.6" fill="#404040" textLength="53" lengthAdjust="spacingAndGlyphs" style="font-family:'Liberation Serif',serif">Intensity a.u</text>
</svg>
</body></html>
